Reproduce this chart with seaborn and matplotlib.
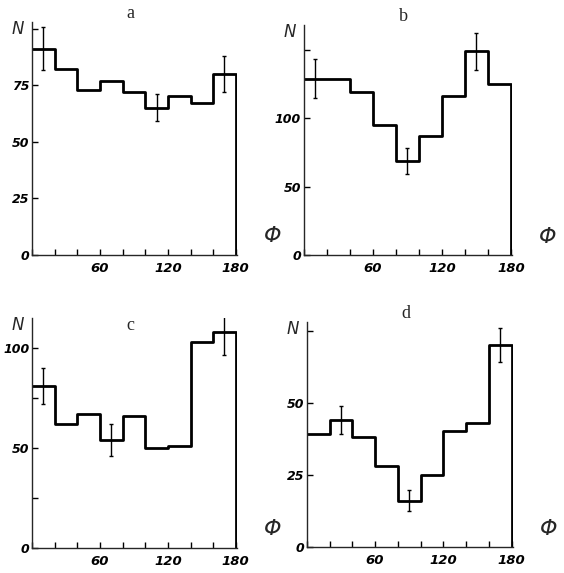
# Angular distributions, four panels
import numpy as np
import pandas as pd
import matplotlib
matplotlib.use('Agg')
import matplotlib.pyplot as plt
import seaborn as sns

# Bin edges (degrees) and bin centres
edges = [0, 20, 40, 60, 80, 100, 120, 140, 160, 180]
centers = [10, 30, 50, 70, 90, 110, 130, 150, 170]

# Counts per bin
counts_a = [91, 82, 73, 77, 72, 65, 70, 67, 80]
counts_b = [129, 129, 119, 95, 69, 87, 116, 149, 125]
counts_c = [81, 62, 67, 54, 66, 50, 51, 103, 108]
counts_d = [39, 44, 38, 28, 16, 25, 40, 43, 70]

# Bins that carry an error bar, and the size of the bar
err_bins_a = [0, 5, 8]
err_size_a = [9.5, 6, 8]
err_bins_b = [0, 4, 7]
err_size_b = [14, 9.5, 13.5]
err_bins_c = [0, 3, 8]
err_size_c = [9, 8, 11.5]
err_bins_d = [1, 4, 8]
err_size_d = [5, 3.5, 6]

# y ticks: all ticks and the labelled ones
yticks_a = [0, 25, 50, 75, 100]
ylabels_a = ['0', '25', '50', '75', '']
yticks_b = [0, 50, 100, 150]
ylabels_b = ['0', '50', '100', '']
yticks_c = [0, 25, 50, 75, 100]
ylabels_c = ['0', '', '50', '', '100']
yticks_d = [0, 25, 50, 75]
ylabels_d = ['0', '25', '50', '']
xlabels = ['', '', '', '60', '', '', '120', '', '', '180']

sns.set_style('ticks')
plt.rcParams['font.family'] = ['DejaVu Sans']

fig = plt.figure(figsize=(5.64, 5.73), dpi=100)

panels = [
    ('a', counts_a, err_bins_a, err_size_a, yticks_a, ylabels_a, 103,
     [0.057, 0.555, 0.363, 0.407], 1.0),
    ('b', counts_b, err_bins_b, err_size_b, yticks_b, ylabels_b, 168,
     [0.539, 0.555, 0.369, 0.401], 1.0),
    ('c', counts_c, err_bins_c, err_size_c, yticks_c, ylabels_c, 115,
     [0.057, 0.044, 0.363, 0.401], 0.93),
    ('d', counts_d, err_bins_d, err_size_d, yticks_d, ylabels_d, 78,
     [0.544, 0.046, 0.365, 0.392], 1.0),
]

for name, counts, err_bins, err_size, yticks, ylabels, ytop, pos, ty in panels:
    ax = fig.add_axes(pos)
    df = pd.DataFrame({'phi': centers, 'N': counts})
    sns.histplot(data=df, x='phi', weights='N', bins=edges, element='step',
                 fill=False, color='black', linewidth=2.0, ax=ax)
    # closing edge of the last bin down to zero
    ax.plot([edges[-1], edges[-1]], [0, counts[-1]], color='black',
            linewidth=2.0, solid_capstyle='butt')
    ex = [centers[i] for i in err_bins]
    ey = [counts[i] for i in err_bins]
    ax.errorbar(ex, ey, yerr=err_size, fmt='none', ecolor='black',
                elinewidth=1.0, capsize=1.5, capthick=1.0)

    ax.set_xlim(0, 181)
    ax.set_ylim(0, ytop)
    ax.set_xticks(edges)
    ax.set_xticklabels(xlabels)
    ax.set_yticks(yticks)
    ax.set_yticklabels(ylabels)
    ax.tick_params(direction='in', length=4, width=1, colors='black',
                   labelsize=9.5)
    ax.tick_params(axis='x', pad=5)
    ax.tick_params(axis='y', pad=2, labelsize=9)
    for lab in ax.get_xticklabels() + ax.get_yticklabels():
        lab.set_fontweight('bold')
        lab.set_fontstyle('italic')
    ax.spines['top'].set_visible(False)
    ax.spines['right'].set_visible(False)
    ax.spines['left'].set_linewidth(1.0)
    ax.spines['bottom'].set_linewidth(1.0)
    ax.set_xlabel('')
    ax.set_ylabel('')

    ax.text(0.48, ty, name, transform=ax.transAxes, ha='center', va='bottom',
            fontsize=13, family='Liberation Serif')
    ax.text(-0.04, 0.97, 'N', transform=ax.transAxes, ha='right', va='center',
            fontsize=12, fontstyle='italic')
    ax.text(1.13, 0.08, 'Φ', transform=ax.transAxes, ha='left', va='center',
            fontsize=16, fontstyle='italic')

fig.savefig('out.png', dpi=100, facecolor='white')
